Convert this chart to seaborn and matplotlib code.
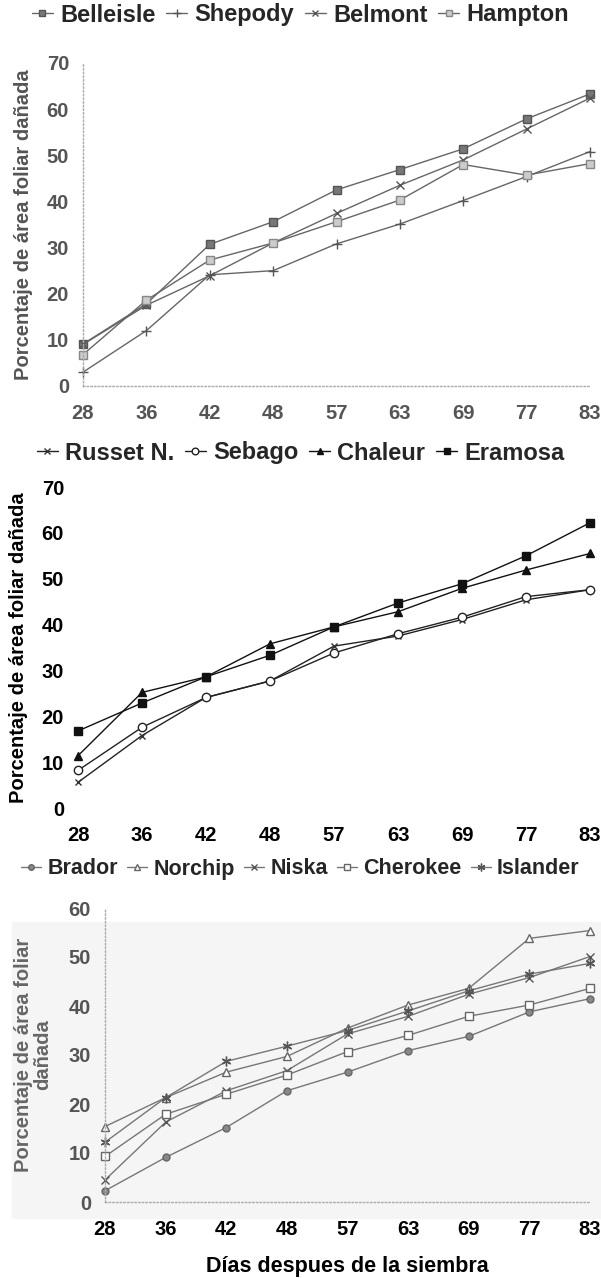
import numpy as np
import pandas as pd
import seaborn as sns
import matplotlib.pyplot as plt
from matplotlib.patches import Rectangle

# Data
days = [28, 36, 42, 48, 57, 63, 69, 77, 83]

# panel 1
belleisle = [9.1, 17.8, 30.7, 35.6, 42.5, 46.9, 51.4, 57.9, 63.3]
shepody = [3.0, 12.0, 24.1, 25.0, 30.8, 35.1, 40.2, 45.4, 50.8]
belmont = [9.0, 17.5, 23.9, 31.0, 37.4, 43.5, 49.0, 55.7, 62.4]
hampton = [6.8, 18.6, 27.3, 31.0, 35.6, 40.3, 48.0, 45.7, 48.2]

# panel 2
russet = [5.6, 15.8, 24.1, 27.7, 35.3, 37.5, 41.1, 45.4, 47.6]
sebago = [8.2, 17.6, 24.1, 27.7, 33.8, 38.0, 41.6, 46.1, 47.6]
chaleur = [11.4, 25.2, 28.6, 35.8, 39.5, 42.8, 47.9, 51.9, 55.5]
eramosa = [16.8, 22.9, 28.6, 33.3, 39.5, 44.7, 48.9, 55.0, 62.2]

# panel 3
brador = [2.3, 9.1, 15.2, 22.7, 26.5, 30.9, 33.8, 38.8, 41.5]
norchip = [15.4, 21.3, 26.5, 29.7, 35.5, 40.2, 43.6, 53.8, 55.4]
niska = [4.5, 16.3, 22.7, 26.8, 34.3, 37.9, 42.4, 45.8, 50.1]
cherokee = [9.3, 17.9, 22.0, 25.9, 30.7, 34.0, 37.9, 40.2, 43.6]
islander = [12.2, 21.3, 28.7, 31.8, 35.0, 39.0, 43.1, 46.5, 48.7]

ylab = 'Porcentaje de área foliar dañada'

sns.set_theme(style='white')
plt.rcParams['font.family'] = ['Liberation Sans', 'DejaVu Sans']
plt.rcParams['font.weight'] = 'bold'

W, H = 601, 1278
fig = plt.figure(figsize=(W / 100, H / 100), dpi=100)
pos = list(range(len(days)))

# faint scan background behind the last panel
fig.patches.append(Rectangle((12 / W, 1 - 1218 / H), 589 / W, 296 / H,
                             transform=fig.transFigure, color='#f5f5f5', zorder=-5))


def box(left, right, top, bottom):
    return [left / W, 1 - bottom / H, (right - left) / W, (bottom - top) / H]


def draw_panel(rect, series, ymax, tcol, xcol, spines, leg_y, leg_size=17):
    ax = fig.add_axes(rect)
    for name, vals, st in series:
        d = pd.DataFrame({'x': pos, 'y': vals})
        sns.lineplot(data=d, x='x', y='y', ax=ax, label=name, color=st['lc'],
                     lw=st.get('lw', 1.0), marker=st['m'], ms=st.get('ms', 6),
                     mfc=st['mfc'], mec=st['mec'], mew=st.get('mew', 1.0),
                     clip_on=False)
    ax.set_xlim(0, 8)
    ax.set_ylim(0, ymax)
    ax.set_xticks(pos)
    ax.set_xticklabels([str(d) for d in days], color=xcol, fontsize=14.5, fontweight='bold')
    ax.set_yticks(range(0, ymax + 1, 10))
    ax.set_yticklabels([str(v) for v in range(0, ymax + 1, 10)], color=tcol,
                       fontsize=14.5, fontweight='bold')
    ax.tick_params(axis='x', length=0, pad=13)
    ax.tick_params(axis='y', length=0, pad=10)
    ax.set_xlabel('')
    ax.set_ylabel('')
    for s in ['top', 'right']:
        ax.spines[s].set_visible(False)
    for s in ['left', 'bottom']:
        if spines:
            ax.spines[s].set_color('#aaaaaa')
            ax.spines[s].set_linestyle(':')
            ax.spines[s].set_linewidth(1.0)
        else:
            ax.spines[s].set_visible(False)
    ax.patch.set_alpha(0)
    ax.legend(loc='center', bbox_to_anchor=(0.5, 1 - leg_y / H), bbox_transform=fig.transFigure,
              ncol=len(series), frameon=False, handlelength=0.9, handletextpad=0.3,
              columnspacing=0.45, prop={'size': leg_size, 'weight': 'bold'}, borderpad=0,
              markerscale=0.8)
    return ax


g1 = '#666666'
p1 = [
    ('Belleisle', belleisle, dict(lc=g1, m='s', mfc='#777777', mec='#555555', ms=6)),
    ('Shepody', shepody, dict(lc=g1, m='+', mfc='none', mec='#555555', ms=7)),
    ('Belmont', belmont, dict(lc=g1, m='x', mfc='none', mec='#555555', ms=6)),
    ('Hampton', hampton, dict(lc=g1, m='s', mfc='#cccccc', mec='#888888', ms=6)),
]
ax1 = draw_panel(box(83, 590, 63, 386), p1, 70, '#555555', '#555555', True, 15)
ax1.set_ylabel(ylab, color='#555555', fontsize=14.5, fontweight='bold', labelpad=10)

p2 = [
    ('Russet N.', russet, dict(lc='#222222', m='x', mfc='none', mec='#333333', ms=5)),
    ('Sebago', sebago, dict(lc='#222222', m='o', mfc='white', mec='#222222', ms=6)),
    ('Chaleur', chaleur, dict(lc='#111111', m='^', mfc='#111111', mec='#111111', ms=6)),
    ('Eramosa', eramosa, dict(lc='#111111', m='s', mfc='#111111', mec='#111111', ms=6)),
]
ax2 = draw_panel(box(78, 590, 487, 808), p2, 70, 'black', 'black', False, 453)
ax2.set_ylabel(ylab, color='black', fontsize=14.5, fontweight='bold', labelpad=10)

g3 = '#777777'
p3 = [
    ('Brador', brador, dict(lc=g3, m='o', mfc='#888888', mec='#666666', ms=5)),
    ('Norchip', norchip, dict(lc=g3, m='^', mfc='white', mec='#666666', ms=6)),
    ('Niska', niska, dict(lc=g3, m='x', mfc='none', mec='#555555', ms=6)),
    ('Cherokee', cherokee, dict(lc=g3, m='s', mfc='white', mec='#666666', ms=6)),
    ('Islander', islander, dict(lc=g3, m=(6, 2, 0), mfc='none', mec='#555555', ms=7)),
]
ax3 = draw_panel(box(105, 590, 908, 1202), p3, 60, '#555555', 'black', True, 869,
                 leg_size=15.5)
ax3.set_ylabel('Porcentaje de área foliar\ndañada', color='#666666', fontsize=14.5,
               fontweight='bold', labelpad=12, linespacing=1.0)
ax3.set_xlabel('Días despues de la siembra', color='black', fontsize=15.5,
               fontweight='bold', labelpad=12)

fig.savefig('out.png', dpi=100)
